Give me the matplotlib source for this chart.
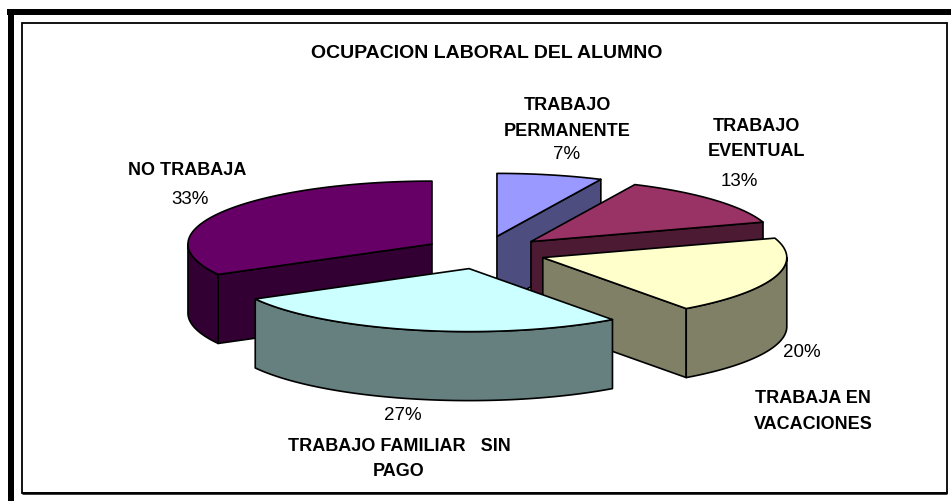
"""
Exploded 3D-look pie: ocupacion laboral del alumno.
"""
import numpy as np
import matplotlib
matplotlib.use("Agg")
import matplotlib.pyplot as plt
from matplotlib.patches import Polygon, Rectangle

plt.rcParams["font.family"] = ["Liberation Sans", "DejaVu Sans"]

###################################################
# Data
###################################################
title = "OCUPACION LABORAL DEL ALUMNO"
categories = ["TRABAJO\nPERMANENTE", "TRABAJO\nEVENTUAL", "TRABAJA EN\nVACACIONES",
              "TRABAJO FAMILIAR   SIN\nPAGO", "NO TRABAJA"]
values = [7, 13, 20, 27, 33]

###################################################
# Style / layout (pixels)
###################################################
top_colors = ["#9999FF", "#993366", "#FFFFCC", "#CCFFFF", "#660066"]
side_colors = ["#4D4D80", "#4D1A33", "#808066", "#668080", "#330033"]
draw_order = [0, 1, 4, 2, 3]
cx, cy = 483, 253.5
rx, ry = 244, 63
depth = 69
explode = 0.262
nudge_x = [0, 0, -1, 0, 4]
name_pos = [(567, 118.5), (756, 139), (813, 411.5), (399, 459), (187, 171)]
pct_pos = [(567, 155), (739, 182), (802, 353), (403, 416), (190, 200)]


def rim(ax0, ay0, t):
    return ax0 + rx * np.sin(t), ay0 - ry * np.cos(t)


def add_poly(ax, xs, ys, color):
    ax.add_patch(Polygon(np.column_stack([xs, ys]), closed=True, facecolor=color,
                         edgecolor="black", linewidth=1.2, joinstyle="round"))


def draw_slice(ax, t1, t2, top, side, dx):
    mid = (t1 + t2) / 2
    ax0 = cx + explode * rx * np.sin(mid) + dx
    ay0 = cy - explode * ry * np.cos(mid)

    # cut faces that look towards the viewer
    for t, show in ((t1, np.sin(t1) < 0), (t2, np.sin(t2) > 0)):
        if show:
            x, y = rim(ax0, ay0, t)
            add_poly(ax, [ax0, x, x, ax0], [ay0, y, y + depth, ay0 + depth], side)

    # outer wall, front half only
    lo, hi = max(t1, np.pi / 2), min(t2, 3 * np.pi / 2)
    if hi > lo:
        x, y = rim(ax0, ay0, np.linspace(lo, hi, 80))
        add_poly(ax, np.r_[x, x[::-1]], np.r_[y, y[::-1] + depth], side)

    # top
    x, y = rim(ax0, ay0, np.linspace(t1, t2, 120))
    add_poly(ax, np.r_[ax0, x], np.r_[ay0, y], top)


def main():
    fig = plt.figure(figsize=(9.51, 5.02), dpi=100, facecolor="white")
    ax = fig.add_axes([0, 0, 1, 1])
    ax.set_xlim(0, 951)
    ax.set_ylim(502, 0)
    ax.axis("off")

    # heavy outer border (top + left) and thin inner frame
    ax.add_patch(Rectangle((7, 10), 944, 6, facecolor="black", edgecolor="none"))
    ax.add_patch(Rectangle((8, 10), 6, 492, facecolor="black", edgecolor="none"))
    ax.add_patch(Rectangle((21.5, 24), 925, 470, facecolor="white", edgecolor="black", linewidth=1.3))
    ax.plot([22, 947], [494, 494], color="black", lw=1.8, solid_capstyle="butt")

    ax.text(487, 53.5, title, ha="center", va="center", fontsize=14, fontweight="bold")

    edges = np.r_[0, np.cumsum(values)] / sum(values) * 2 * np.pi
    for i in draw_order:
        draw_slice(ax, edges[i], edges[i + 1], top_colors[i], side_colors[i], nudge_x[i])

    for name, val, np_, pp in zip(categories, values, name_pos, pct_pos):
        ax.text(np_[0], np_[1], name, ha="center", va="center", fontsize=13,
                fontweight="bold", linespacing=1.65)
        ax.text(pp[0], pp[1], f"{val}%", ha="center", va="center", fontsize=13.5)

    fig.savefig("out.png", dpi=100)


if __name__ == "__main__":
    main()
